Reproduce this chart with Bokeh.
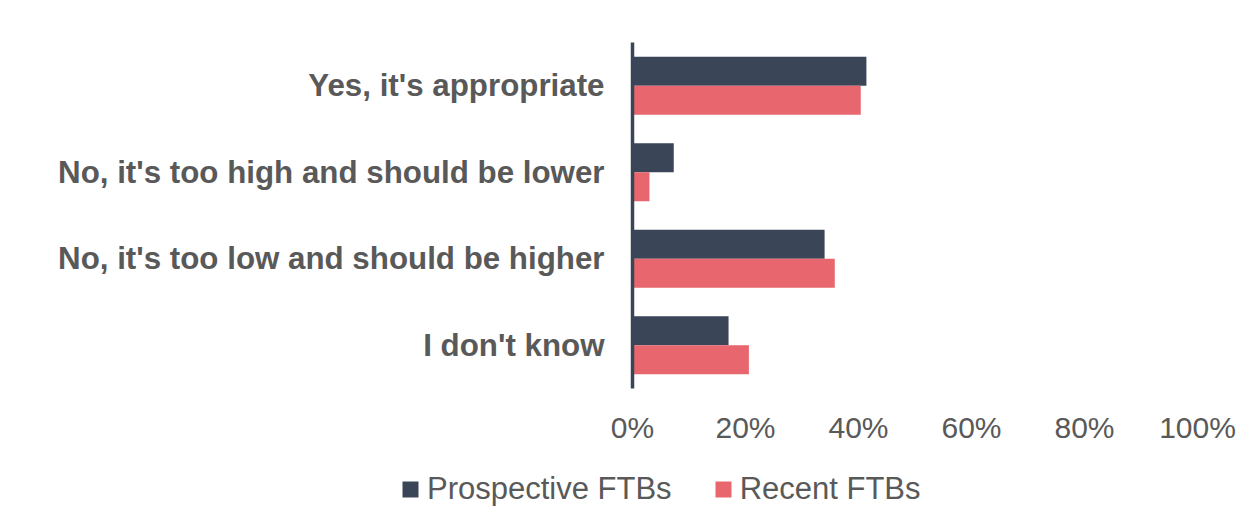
from bokeh.plotting import figure
from bokeh.models import ColumnDataSource, FactorRange, Range1d, Legend, LegendItem, FixedTicker
from bokeh.layouts import column
from bokeh.transform import dodge
from bokeh.embed import file_html
from bokeh.resources import INLINE

categories = ["Yes, it's appropriate",
              "No, it's too high and should be lower",
              "No, it's too low and should be higher",
              "I don't know"]
series_names = ["Prospective FTBs", "Recent FTBs"]
prospective = [41.4, 7.3, 34.0, 17.0]
recent = [40.4, 3.0, 35.8, 20.6]
x_ticks = [0, 20, 40, 60, 80, 100]
x_tick_labels = ["0%", "20%", "40%", "60%", "80%", "100%"]

NAVY = "#3a4558"
RED = "#e8666e"
TEXT = "#595959"
FONT = "Liberation Sans"

src = ColumnDataSource(dict(cat=categories, p=prospective, r=recent))

p = figure(frame_width=565, frame_height=346,
           x_range=Range1d(0, 100),
           y_range=FactorRange(factors=list(reversed(categories)), range_padding=0),
           output_backend="svg", toolbar_location=None,
           min_border_left=632, min_border_right=51,
           min_border_top=42, min_border_bottom=72)
p.outline_line_color = None
p.xgrid.grid_line_color = None
p.ygrid.grid_line_color = None
p.background_fill_color = "white"
p.border_fill_color = "white"

bh = 0.335
r1 = p.hbar(y=dodge("cat", bh / 2, range=p.y_range), right="p", left=0, height=bh,
            source=src, fill_color=NAVY, line_color=None)
r2 = p.hbar(y=dodge("cat", -bh / 2, range=p.y_range), right="r", left=0, height=bh,
            source=src, fill_color=RED, line_color=None)

xa = p.xaxis[0]
xa.ticker = FixedTicker(ticks=x_ticks)
xa.major_label_overrides = {t: l for t, l in zip(x_ticks, x_tick_labels)}
xa.axis_line_color = None
xa.major_tick_line_color = None
xa.minor_tick_line_color = None
xa.major_label_text_font = FONT
xa.major_label_text_font_size = "30px"
xa.major_label_text_color = TEXT
xa.major_label_standoff = 16

ya = p.yaxis[0]
ya.axis_line_color = NAVY
ya.axis_line_width = 3.5
ya.major_tick_line_color = None
ya.minor_tick_line_color = None
ya.major_label_text_font = FONT
ya.major_label_text_font_style = "bold"
ya.major_label_text_font_size = "31.3px"
ya.major_label_text_color = TEXT
ya.major_label_standoff = 22

# legend strip below the chart (swatch renderers have zero-width bars)
q = figure(frame_width=1248, frame_height=60, x_range=Range1d(0, 1), y_range=Range1d(0, 1),
           output_backend="svg", toolbar_location=None,
           min_border_left=0, min_border_right=0, min_border_top=0, min_border_bottom=0)
q.axis.visible = False
q.grid.visible = False
q.outline_line_color = None
q.background_fill_color = "white"
q.border_fill_color = "white"
swatch = ColumnDataSource(dict(y=[0.5], right=[0]))
l1 = q.hbar(y="y", right="right", left=0, height=0.5, source=swatch, fill_color=NAVY, line_color=None)
l2 = q.hbar(y="y", right="right", left=0, height=0.5, source=swatch, fill_color=RED, line_color=None)

legend = Legend(items=[LegendItem(label=series_names[0], renderers=[l1]),
                       LegendItem(label=series_names[1], renderers=[l2])],
                orientation="horizontal", location=(400, 13),
                label_text_font=FONT, label_text_font_size="31px",
                label_text_color=TEXT, glyph_width=20, glyph_height=20,
                label_standoff=7, spacing=41, padding=0, margin=0,
                border_line_color=None, background_fill_alpha=0)
q.add_layout(legend)

layout = column(p, q, spacing=0)
open("out.html", "w").write(file_html(layout, INLINE))
